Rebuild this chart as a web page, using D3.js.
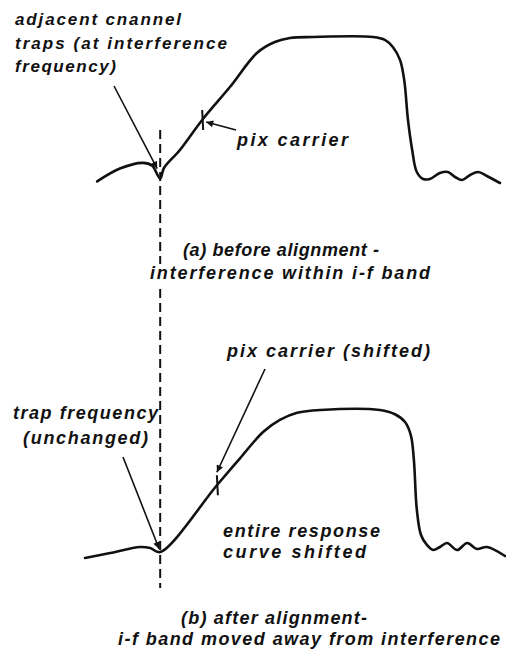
<!DOCTYPE html>
<html>
<head>
<meta charset="utf-8">
<title>i-f alignment - trap frequency</title>
<script src="https://d3js.org/d3.v7.min.js"></script>
<style>
  body { margin: 0; background: #fff; }
  svg text { font-family: "Liberation Sans", Arial, sans-serif; font-style: italic; font-weight: bold; font-size: 18px; fill: #111; }
  svg text.small { font-size: 17px; }
</style>
</head>
<body>
<svg id="chart" width="506" height="657"></svg>
<script>
// response curves: [frequency (arb. units), relative response]
const curveA = [
  [2.9, -0.01], [8.3, 0.08], [13.8, 0.12], [16, 0.1], [17.9, 0.01], [18.8, 0.084],
  [22.6, 0.21], [27.9, 0.42], [34.5, 0.65], [41, 0.89], [45.2, 0.965], [48.8, 0.993],
  [54.3, 1], [68.6, 1], [71.4, 0.98], [73.3, 0.93], [75, 0.84], [76, 0.7],
  [76.9, 0.42], [77.9, 0.21], [79, 0.056], [80.5, 0.007], [82.1, 0.007], [84.5, 0.049],
  [86.4, 0.056], [88.1, 0.021], [89.8, 0], [91.7, 0.035], [93.6, 0.056], [95.7, 0.028],
  [98.8, -0.021]
];
const curveB = [
  [0, -0.042], [6, -0.007], [13.1, 0.035], [15.5, 0.028], [17.9, 0], [31.4, 0.47],
  [36.9, 0.66], [42.4, 0.845], [46.4, 0.93], [50.5, 0.98], [56, 1], [70.2, 1],
  [73.8, 0.97], [76.2, 0.915], [77.6, 0.82], [78.3, 0.65], [79, 0.3], [80, 0.12],
  [81.4, 0.05], [82.9, 0.014], [84.5, 0.035], [86.2, 0.063], [88.6, 0.014], [91, 0.063],
  [93.3, 0.021], [95.7, 0.035], [100, -0.028]
];
const trapFreq = 17.9;
const carrierA = 27.9;
const carrierB = 31.4;

const labelsA = ["adjacent cnannel", "traps (at interference", "frequency)"];
const carrierLabelA = ["pix carrier"];
const captionA = ["(a) before alignment -", "interference within i-f band"];
const carrierLabelB = ["pix carrier (shifted)"];
const trapLabelB = ["trap frequency", "(unchanged)"];
const shiftLabelB = ["entire response", "curve shifted"];
const captionB = ["(b) after alignment-", "i-f band moved away from interference"];

const svg = d3.select("#chart");

const x = d3.scaleLinear().domain([0, 100]).range([85, 505]);
const yA = d3.scaleLinear().domain([0, 1]).range([180, 37]);
const yB = d3.scaleLinear().domain([0, 1]).range([552, 410]);

// arrow head
svg.append("defs").append("marker")
  .attr("id", "head")
  .attr("viewBox", "0 0 10 10")
  .attr("refX", 10).attr("refY", 5)
  .attr("markerWidth", 12).attr("markerHeight", 7)
  .attr("markerUnits", "userSpaceOnUse")
  .attr("orient", "auto")
  .append("path").attr("d", "M0,0 L10,5 L0,10 Z").attr("fill", "#111");

function interp(curve, f) {
  // value on curve at frequency f (linear between read points)
  for (let i = 1; i < curve.length; i++) {
    if (curve[i][0] >= f) {
      let a = curve[i - 1], b = curve[i];
      return a[1] + (b[1] - a[1]) * (f - a[0]) / (b[0] - a[0]);
    }
  }
  return curve[curve.length - 1][1];
}

function drawCurve(data, y) {
  let line = d3.line()
    .x(d => x(d[0]))
    .y(d => y(d[1]))
    .curve(d3.curveCatmullRom.alpha(0.5));
  svg.append("path")
    .datum(data)
    .attr("d", line)
    .attr("fill", "none")
    .attr("stroke", "#111")
    .attr("stroke-width", 2.6)
    .attr("stroke-linejoin", "round")
    .attr("stroke-linecap", "round");
}

function tick(curve, f, y) {
  let cx = x(f), cy = y(interp(curve, f));
  svg.append("line")
    .attr("x1", cx).attr("y1", cy - 10)
    .attr("x2", cx + 1).attr("y2", cy + 10)
    .attr("stroke", "#111").attr("stroke-width", 2);
}

function arrow(x1, y1, x2, y2) {
  svg.append("line")
    .attr("x1", x1).attr("y1", y1)
    .attr("x2", x2).attr("y2", y2)
    .attr("stroke", "#111").attr("stroke-width", 1.6)
    .attr("marker-end", "url(#head)");
}

// lines: text; pos: [[x, baseline, width], ...] per line
function label(lines, pos, cls) {
  let t = svg.append("text").attr("class", cls || null);
  t.selectAll("tspan").data(lines).enter().append("tspan")
    .attr("x", (d, i) => pos[i][0])
    .attr("y", (d, i) => pos[i][1])
    .attr("textLength", (d, i) => pos[i][2])
    .attr("lengthAdjust", "spacing")
    .text(d => d);
}

// dashed interference line (broken where caption (a) crosses it)
[[130, 264], [289, 588]].forEach(function (seg) {
  svg.append("line")
    .attr("x1", x(trapFreq)).attr("y1", seg[0])
    .attr("x2", x(trapFreq)).attr("y2", seg[1])
    .attr("stroke", "#111").attr("stroke-width", 2)
    .attr("stroke-dasharray", "9,5");
});

drawCurve(curveA, yA);
drawCurve(curveB, yB);
tick(curveA, carrierA, yA);
tick(curveB, carrierB, yB);

// panel (a)
label(labelsA, [[15, 25, 166], [15, 49, 212], [15, 72, 101]], "small");
arrow(114, 86, x(trapFreq) - 3, yA(interp(curveA, trapFreq)) - 10);
label(carrierLabelA, [[237, 146, 111]]);
arrow(236, 130, x(carrierA) + 4, yA(interp(curveA, carrierA)) + 2);
label(captionA, [[183, 256, 196], [150, 279, 280]]);

// panel (b)
label(carrierLabelB, [[227, 357, 203]]);
arrow(265, 369, x(carrierB), yB(interp(curveB, carrierB)) - 13);
label(trapLabelB, [[13, 419, 145], [23, 444, 125]]);
arrow(123, 457, x(trapFreq) - 1, yB(0) - 3);
label(shiftLabelB, [[223, 537, 157], [223, 558, 143]]);
label(captionB, [[181, 624, 186], [118, 645, 382]]);
</script>
</body>
</html>
